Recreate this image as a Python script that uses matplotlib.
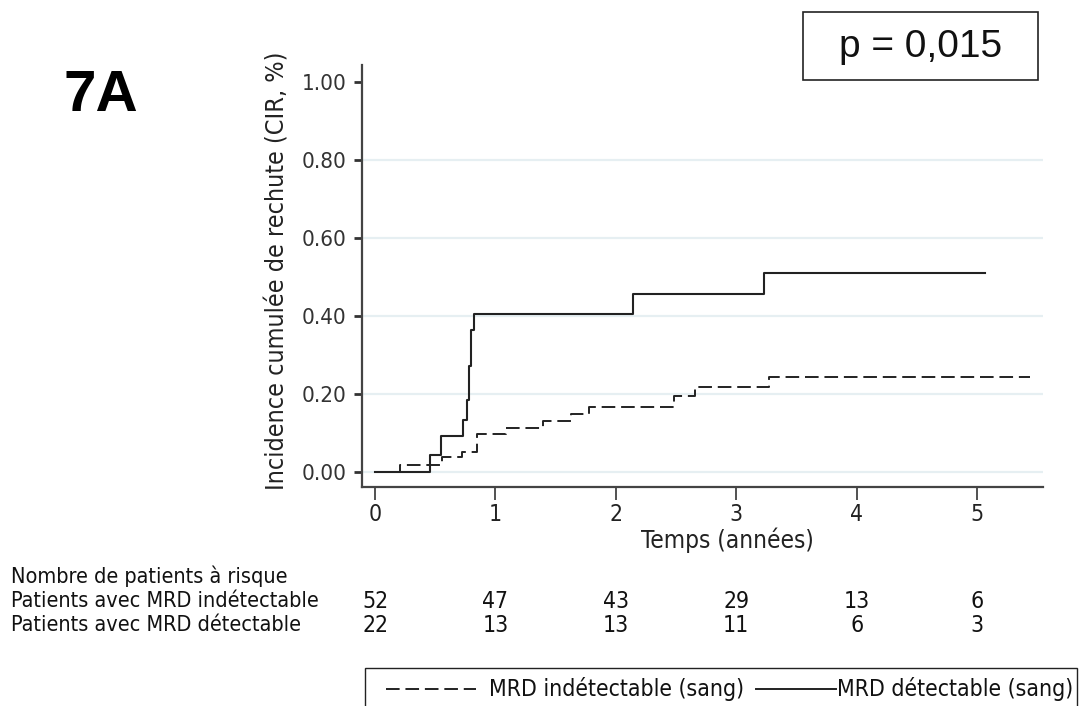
import matplotlib
matplotlib.use("Agg")
import matplotlib.pyplot as plt
from matplotlib.patches import Rectangle
from matplotlib.lines import Line2D
from matplotlib import font_manager

# ---- data ----
time_detect = [0, 0.457, 0.548, 0.733, 0.762, 0.778, 0.797, 0.82, 2.14, 3.233, 5.066]
cir_detect = [0, 0.043, 0.092, 0.133, 0.184, 0.271, 0.364, 0.405, 0.455, 0.509, 0.509]

time_undetect = [0, 0.208, 0.554, 0.72, 0.845, 1.086, 1.393, 1.628, 1.78, 2.486, 2.658, 3.275, 5.44]
cir_undetect = [0, 0.019, 0.038, 0.052, 0.097, 0.114, 0.131, 0.150, 0.167, 0.195, 0.218, 0.243, 0.243]

x_ticks = [0, 1, 2, 3, 4, 5]
y_ticks = [0.0, 0.2, 0.4, 0.6, 0.8, 1.0]
y_ticklabels = ["0.00", "0.20", "0.40", "0.60", "0.80", "1.00"]

risk_times = [0, 1, 2, 3, 4, 5]
risk_undetect = [52, 47, 43, 29, 13, 6]
risk_detect = [22, 13, 13, 11, 6, 3]

label_undetect = "MRD indétectable (sang)"
label_detect = "MRD détectable (sang)"
risk_title = "Nombre de patients à risque"
risk_row1 = "Patients avec MRD indétectable"
risk_row2 = "Patients avec MRD détectable"
panel_label = "7A"
p_text = "p = 0,015"
x_label = "Temps (années)"
y_label = "Incidence cumulée de rechute (CIR, %)"

# ---- font choice: a narrow sans if available ----
names = {f.name for f in font_manager.fontManager.ttflist}
narrow_stretch = "normal"
if "Liberation Sans Narrow" in names:
    NARROW = ["Liberation Sans Narrow", "DejaVu Sans"]
    k = 1.09
elif any(f.name == "DejaVu Sans" and str(f.stretch) in ("condensed", "semi-condensed", "600", "500")
         and f.weight in ("normal", 400) and f.style == "normal" for f in font_manager.fontManager.ttflist):
    NARROW = ["DejaVu Sans", "Liberation Sans"]
    narrow_stretch = "condensed"
    k = 1.0
else:
    NARROW = ["Liberation Sans", "DejaVu Sans"]
    k = 0.94
REG = ["Liberation Sans", "DejaVu Sans"]
plt.rcParams["font.family"] = NARROW
plt.rcParams["font.stretch"] = narrow_stretch

W, H = 1080, 706
fig = plt.figure(figsize=(W / 100, H / 100), dpi=100)

def fx(px):
    return px / W

def fy(py):
    return 1 - py / H

ax = fig.add_axes([fx(362), fy(487.3), (1043.3 - 362) / W, (487.3 - 65) / H])
ax.set_xlim(-0.108, 5.55)
ax.set_ylim(-0.039, 1.043)

for s in ["top", "right"]:
    ax.spines[s].set_visible(False)
for s in ["left", "bottom"]:
    ax.spines[s].set_color("#444444")
    ax.spines[s].set_linewidth(1.6)

for yv in y_ticks[:-1]:
    ax.axhline(yv, color="#e6eff2", lw=1.6, zorder=0)

ax.step(time_undetect, cir_undetect, where="post", color="#222222", lw=1.4,
        linestyle=(0, (7, 3)), zorder=3)
ax.step(time_detect, cir_detect, where="post", color="#222222", lw=1.5, zorder=4)

ax.set_xticks(x_ticks)
ax.set_xticklabels([str(v) for v in x_ticks])
ax.set_yticks(y_ticks)
ax.set_yticklabels(y_ticklabels)
ax.tick_params(axis="y", direction="out", length=6, width=2, color="#333333",
               labelsize=16 * k, labelcolor="#333333", pad=5)
ax.tick_params(axis="x", direction="out", length=9, width=1.2, color="#333333",
               labelsize=16.5 * k, labelcolor="#222222", pad=2)

fig.text(fx(727), fy(540), x_label, fontsize=17.5 * k, ha="center", va="center", color="#222222")
fig.text(fx(278), fy(271), y_label, fontsize=18 * k, ha="center", va="center",
         rotation=90, color="#222222")

# panel label
fig.text(fx(101), fy(96), panel_label, fontsize=42, fontweight="bold", family=REG,
         stretch="normal", ha="center", va="center", color="black")

# p-value box
fig.patches.append(Rectangle((fx(803), fy(80)), (1038 - 803) / W, 68 / H,
                             transform=fig.transFigure, facecolor="white",
                             edgecolor="#222222", lw=1.2))
fig.text(fx(921), fy(47), p_text, fontsize=28, family=REG, stretch="normal",
         ha="center", va="center", color="#111111")

# risk table
fs_t = 15.5 * k
fig.text(fx(11), fy(576), risk_title, fontsize=fs_t, ha="left", va="center", color="#111111")
fig.text(fx(11), fy(601), risk_row1, fontsize=fs_t, ha="left", va="center", color="#111111")
fig.text(fx(11), fy(625), risk_row2, fontsize=fs_t, ha="left", va="center", color="#111111")
trans = matplotlib.transforms.blended_transform_factory(ax.transData, fig.transFigure)
for t, n1, n2 in zip(risk_times, risk_undetect, risk_detect):
    ax.text(t, fy(601), str(n1), transform=trans, fontsize=fs_t + 1, ha="center",
            va="center", color="#111111", clip_on=False)
    ax.text(t, fy(626), str(n2), transform=trans, fontsize=fs_t + 1, ha="center",
            va="center", color="#111111", clip_on=False)

# legend box
fs_l = 16.5 * k
fig.patches.append(Rectangle((fx(365), fy(720)), (1077 - 365) / W, (720 - 668) / H,
                             transform=fig.transFigure, facecolor="white",
                             edgecolor="#222222", lw=1.0))
ly = fy(689)
fig.lines.append(Line2D([fx(386), fx(476)], [ly, ly], transform=fig.transFigure,
                        color="#222222", lw=1.4, linestyle=(0, (7, 3))))
fig.text(fx(489), ly, label_undetect, fontsize=fs_l, ha="left", va="center", color="#111111")
fig.lines.append(Line2D([fx(756), fx(836)], [ly, ly], transform=fig.transFigure,
                        color="#222222", lw=1.4))
fig.text(fx(837), ly, label_detect, fontsize=fs_l, ha="left", va="center", color="#111111")

fig.savefig("out.png", dpi=100)
